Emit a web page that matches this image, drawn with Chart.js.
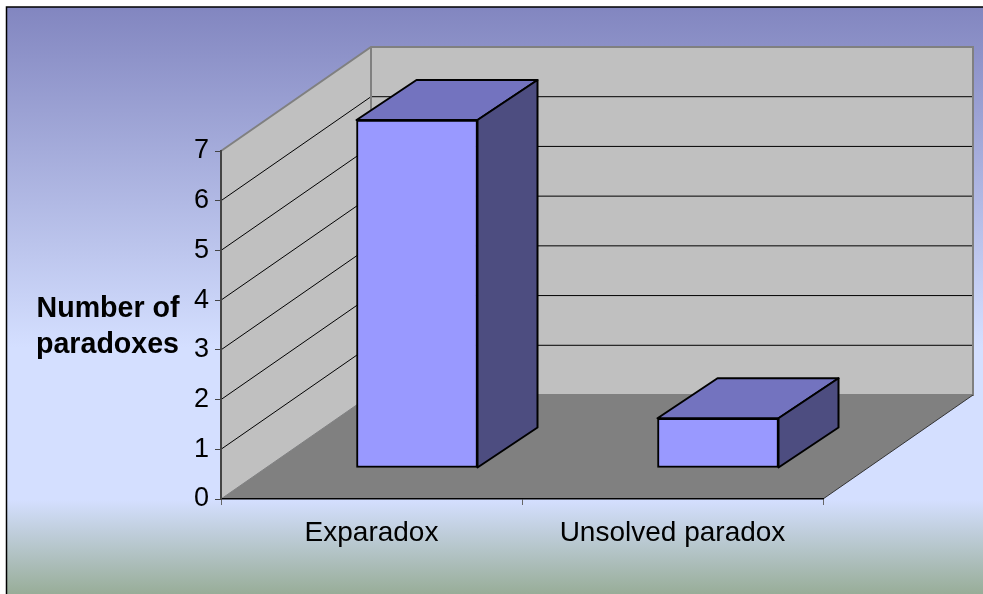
<!DOCTYPE html>
<html>
<head>
<meta charset="utf-8">
<title>Number of paradoxes</title>
<style>
  html, body { margin: 0; padding: 0; background: #fff; }
  canvas { display: block; }
</style>
<script src="https://cdn.jsdelivr.net/npm/chart.js@4"></script>
</head>
<body>
<canvas id="paradoxChart" width="983" height="594"></canvas>
<script>
// Chart data
const categories = ["Exparadox", "Unsolved paradox"];
const paradoxCounts = [7, 1];
const yTicks = [0, 1, 2, 3, 4, 5, 6, 7];
const yTitleLines = ["Number of", "paradoxes"];

// 3D look: how far the box goes back, and how far into it the bars stand
const wallDepth = { x: 150, y: -104 };
const barInset = { x: 45.5, y: -31 };
const barDepth = { x: 60, y: -40 };

// Paint slide background and the walls, behind everything else
const backdrop = {
  id: "backdrop",
  beforeDraw(chart) {
    const { ctx, chartArea: a, scales } = chart;
    const grad = ctx.createLinearGradient(0, 7, 0, 594);
    grad.addColorStop(0, "#8286c0");
    grad.addColorStop(0.58, "#d4dfff");
    grad.addColorStop(0.84, "#d4dfff");
    grad.addColorStop(1, "#98ad98");

    ctx.save();
    ctx.fillStyle = "#fff";
    ctx.fillRect(0, 0, chart.width, chart.height);
    ctx.fillStyle = grad;
    ctx.fillRect(6, 7, chart.width - 6, chart.height - 7);
    ctx.strokeStyle = "#000";
    ctx.lineWidth = 1.5;
    ctx.beginPath();
    ctx.moveTo(6.5, chart.height);
    ctx.lineTo(6.5, 7);
    ctx.lineTo(chart.width, 7);
    ctx.stroke();

    const dx = wallDepth.x;
    const dy = wallDepth.y;
    const l = a.left, r = a.right, t = a.top, b = a.bottom;

    // side wall + back wall
    ctx.fillStyle = "#c0c0c0";
    poly(ctx, [[l, t], [l + dx, t + dy], [r + dx, t + dy], [r + dx, b + dy], [l + dx, b + dy], [l, b]]);
    ctx.fill();

    // floor
    ctx.fillStyle = "#808080";
    poly(ctx, [[l, b], [l + dx, b + dy], [r + dx, b + dy], [r, b]]);
    ctx.fill();

    // gridlines run along the walls
    ctx.strokeStyle = "#000";
    ctx.lineWidth = 1;
    yTicks.slice(1, -1).forEach((v) => {
      const y = scales.y.getPixelForValue(v);
      poly(ctx, [[l, y], [l + dx, y + dy], [r + dx, y + dy]]);
      ctx.stroke();
    });

    // wall outline
    ctx.strokeStyle = "#808080";
    ctx.lineWidth = 2;
    poly(ctx, [[l, t], [l + dx, t + dy], [r + dx, t + dy], [r + dx, b + dy], [l + dx, b + dy]]);
    ctx.stroke();
    ctx.beginPath();
    ctx.moveTo(l + dx, t + dy);
    ctx.lineTo(l + dx, b + dy);
    ctx.stroke();
    ctx.lineWidth = 1;
    poly(ctx, [[l, b], [l + dx, b + dy]]);
    ctx.stroke();

    // front right edge of the floor
    ctx.strokeStyle = "#333";
    poly(ctx, [[r, b], [r + dx, b + dy]]);
    ctx.stroke();
    ctx.restore();
  },
  afterDraw(chart) {
    // axis title stays horizontal, so it is not the rotated scale title
    const { ctx } = chart;
    ctx.save();
    ctx.fillStyle = "#000";
    ctx.font = "bold 28.6px 'Liberation Sans'";
    ctx.textAlign = "center";
    ctx.fillText(yTitleLines[0], 108, 317);
    ctx.fillText(yTitleLines[1], 107.5, 353);
    ctx.restore();
  },
};

// Push the bars back into the box, and add their top and side faces
const boxBars = {
  id: "boxBars",
  beforeDatasetsDraw(chart) {
    const { ctx } = chart;
    ctx.save();
    ctx.translate(barInset.x, barInset.y);
    chart.getDatasetMeta(0).data.forEach((bar) => {
      const p = bar.getProps(["x", "y", "base", "width"]);
      const x0 = p.x - p.width / 2;
      const x1 = p.x + p.width / 2;
      const dx = barDepth.x;
      const dy = barDepth.y;

      ctx.lineWidth = 2;
      ctx.strokeStyle = "#000";
      ctx.lineJoin = "round";

      ctx.fillStyle = "#7373bf";
      poly(ctx, [[x0, p.y], [x0 + dx, p.y + dy], [x1 + dx, p.y + dy], [x1, p.y]]);
      ctx.closePath();
      ctx.fill();
      ctx.stroke();

      ctx.fillStyle = "#4d4d80";
      poly(ctx, [[x1, p.y], [x1 + dx, p.y + dy], [x1 + dx, p.base + dy], [x1, p.base]]);
      ctx.closePath();
      ctx.fill();
      ctx.stroke();
    });
  },
  afterDatasetsDraw(chart) {
    chart.ctx.restore();
  },
};

function poly(ctx, points) {
  ctx.beginPath();
  points.forEach(([x, y], i) => (i ? ctx.lineTo(x, y) : ctx.moveTo(x, y)));
}

new Chart(document.getElementById("paradoxChart"), {
  type: "bar",
  data: {
    labels: categories,
    datasets: [
      {
        data: paradoxCounts,
        backgroundColor: "#9999ff",
        borderColor: "#000",
        borderWidth: 2,
        borderSkipped: false,
        barThickness: 121,
        clip: false,
      },
    ],
  },
  options: {
    responsive: false,
    animation: false,
    layout: { padding: { top: 151, right: 160, left: 0, bottom: 0 } },
    plugins: { legend: { display: false }, tooltip: { enabled: false } },
    scales: {
      x: {
        afterFit: (s) => { s.height = 95; },
        border: { color: "#000", width: 1.5 },
        grid: { drawOnChartArea: false, color: "#666", tickLength: 6 },
        ticks: {
          color: "#000",
          padding: 11,
          maxRotation: 0,
          font: { family: "Liberation Sans", size: 28 },
        },
      },
      y: {
        min: 0,
        max: 7,
        afterFit: (s) => { s.width = 221; },
        afterBuildTicks: (s) => { s.ticks = yTicks.map((value) => ({ value })); },
        border: { color: "#444", width: 2 },
        grid: { drawOnChartArea: false, color: "#444", tickLength: 6 },
        ticks: {
          color: "#000",
          padding: 6,
          font: { family: "Liberation Sans", size: 27 },
        },
      },
    },
  },
  plugins: [backdrop, boxBars],
});
</script>
</body>
</html>
